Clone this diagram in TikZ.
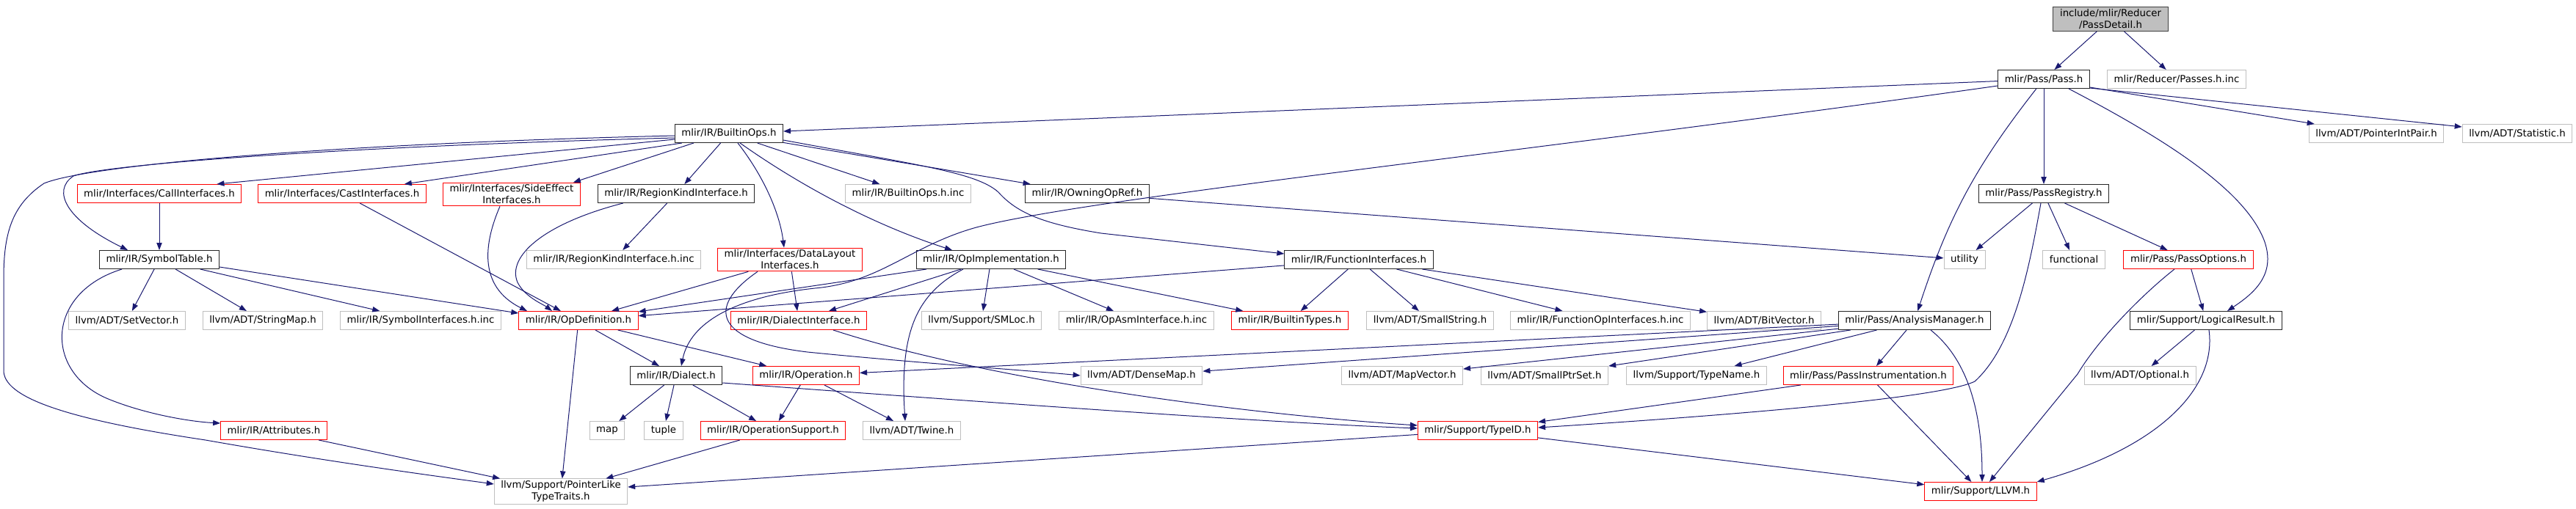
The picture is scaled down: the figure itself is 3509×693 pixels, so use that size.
\documentclass[tikz,border=0pt]{standalone}
\usepackage{fontspec}
\setmainfont{DejaVu Sans}
\usepackage{tikz}
\usetikzlibrary{arrows.meta,calc}
\definecolor{edgeblue}{HTML}{191970}
\definecolor{sysgray}{HTML}{BFBFBF}

\begin{document}
\begin{tikzpicture}[
    x=0.75pt, y=-0.75pt,
    hdr/.style={rectangle, draw, line width=0.75pt, font=\fontsize{10}{12}\selectfont, inner xsep=6.8pt, inner ysep=2pt, minimum height=18.75pt, align=center},
    hdrbox/.style={hdr, draw=black!85},
    trunc/.style={hdr, draw=red},
    sysinc/.style={hdr, draw=sysgray},
    root/.style={hdr, draw=black!75, fill=sysgray},
    arrow/.style={-{Triangle[length=7.5pt,width=5.5pt]}, line width=0.75pt, color=edgeblue}
  ]
  \useasboundingbox (0,0) rectangle (3509,693);

  % Root file
  \node[root] (passdetail) at (2875,26) {include/mlir/Reducer\\/PassDetail.h};

  % Row 1
  \node[hdrbox] (pass) at (2784,108) {mlir/Pass/Pass.h};
  \node[sysinc] (passesinc) at (2965,108) {mlir/Reducer/Passes.h.inc};

  % Row 2
  \node[hdrbox] (builtinops) at (993,182) {mlir/IR/BuiltinOps.h};
  \node[sysinc] (pointerintpair) at (3237,182) {llvm/ADT/PointerIntPair.h};
  \node[sysinc] (statistic) at (3429,182) {llvm/ADT/Statistic.h};

  % Row 3
  \node[trunc] (callif) at (217,264) {mlir/Interfaces/CallInterfaces.h};
  \node[trunc] (castif) at (466,264) {mlir/Interfaces/CastInterfaces.h};
  \node[trunc] (sideeffect) at (697,265) {mlir/Interfaces/SideEffect\\Interfaces.h};
  \node[hdrbox] (regionkind) at (921,264) {mlir/IR/RegionKindInterface.h};
  \node[sysinc] (builtinopsinc) at (1237,264) {mlir/IR/BuiltinOps.h.inc};
  \node[hdrbox] (owningopref) at (1481,264) {mlir/IR/OwningOpRef.h};
  \node[hdrbox] (passregistry) at (2784,264) {mlir/Pass/PassRegistry.h};

  % Row 4
  \node[hdrbox] (symboltable) at (217,354) {mlir/IR/SymbolTable.h};
  \node[sysinc] (regionkindinc) at (836,354) {mlir/IR/RegionKindInterface.h.inc};
  \node[trunc] (datalayout) at (1076,354) {mlir/Interfaces/DataLayout\\Interfaces.h};
  \node[hdrbox] (opimpl) at (1350,354) {mlir/IR/OpImplementation.h};
  \node[hdrbox] (funcif) at (1851,354) {mlir/IR/FunctionInterfaces.h};
  \node[sysinc] (utility) at (2676,354) {utility};
  \node[sysinc] (functional) at (2825,354) {functional};
  \node[trunc] (passoptions) at (2981,354) {mlir/Pass/PassOptions.h};

  % Row 5
  \node[sysinc] (setvector) at (173,437) {llvm/ADT/SetVector.h};
  \node[sysinc] (stringmap) at (358,437) {llvm/ADT/StringMap.h};
  \node[sysinc] (symbolifinc) at (573,437) {mlir/IR/SymbolInterfaces.h.inc};
  \node[trunc] (opdef) at (788,437) {mlir/IR/OpDefinition.h};
  \node[trunc] (dialectif) at (1088,437) {mlir/IR/DialectInterface.h};
  \node[sysinc] (smloc) at (1337,437) {llvm/Support/SMLoc.h};
  \node[sysinc] (opasminc) at (1548,437) {mlir/IR/OpAsmInterface.h.inc};
  \node[trunc] (builtintypes) at (1757,437) {mlir/IR/BuiltinTypes.h};
  \node[sysinc] (smallstring) at (1948,437) {llvm/ADT/SmallString.h};
  \node[sysinc] (funcopifinc) at (2180,437) {mlir/IR/FunctionOpInterfaces.h.inc};
  \node[sysinc] (bitvector) at (2403,437) {llvm/ADT/BitVector.h};
  \node[hdrbox] (analysismgr) at (2608,437) {mlir/Pass/AnalysisManager.h};
  \node[hdrbox] (logicalresult) at (3005,437) {mlir/Support/LogicalResult.h};

  % Row 6
  \node[hdrbox] (dialect) at (921,512) {mlir/IR/Dialect.h};
  \node[trunc] (operation) at (1098,512) {mlir/IR/Operation.h};
  \node[sysinc] (densemap) at (1555,512) {llvm/ADT/DenseMap.h};
  \node[sysinc] (mapvector) at (1910,512) {llvm/ADT/MapVector.h};
  \node[sysinc] (smallptrset) at (2104,512) {llvm/ADT/SmallPtrSet.h};
  \node[sysinc] (typename) at (2311,512) {llvm/Support/TypeName.h};
  \node[trunc] (passinstr) at (2545,512) {mlir/Pass/PassInstrumentation.h};
  \node[sysinc] (optional) at (2915,512) {llvm/ADT/Optional.h};

  % Row 7
  \node[trunc] (attributes) at (373,587) {mlir/IR/Attributes.h};
  \node[sysinc] (map) at (827,587) {map};
  \node[sysinc] (tuple) at (904,587) {tuple};
  \node[trunc] (opsupport) at (1053,587) {mlir/IR/OperationSupport.h};
  \node[sysinc] (twine) at (1242,587) {llvm/ADT/Twine.h};
  \node[trunc] (typeid) at (2013,587) {mlir/Support/TypeID.h};

  % Row 8
  \node[sysinc] (pointerlike) at (764,670) {llvm/Support/PointerLike\\TypeTraits.h};
  \node[trunc] (llvm) at (2698,670) {mlir/Support/LLVM.h};

  % Arrows from the root
  \draw[arrow] (passdetail) -- (pass);
  \draw[arrow] (passdetail) -- (passesinc);

  % Arrows from Pass.h
  \draw[arrow] (pass) -- (builtinops);
  \draw[arrow] ($(pass.west)+(0,9)$) .. controls (2100,205) and (1480,270) .. (1330,310)
    .. controls (1240,335) and (1200,385) .. (1110,393)
    .. controls (1000,405) and (940,440) .. ($(dialect.north)+(7,0)$);
  \draw[arrow] (pass) to[bend right=10] (analysismgr);
  \draw[arrow] (pass) -- (passregistry);
  \draw[arrow] ($(pass.south)+(34,0)$) .. controls (2950,190) and (3060,260) .. (3085,330)
    .. controls (3100,375) and (3070,400) .. ($(logicalresult.north)+(29,0)$);
  \draw[arrow] ($(pass.south east)+(0,-2)$) -- ($(pointerintpair.north west)+(8,0)$);
  \draw[arrow] ($(pass.south east)+(0,-1)$) -- ($(statistic.west)+(0,-9)$);

  % Arrows from BuiltinOps.h
  \draw[arrow] ($(builtinops.west)+(0,3)$) .. controls (450,196) and (120,225) .. (60,250)
    .. controls (15,280) and (5,320) .. (5,380) -- (5,505)
    .. controls (5,540) and (80,570) .. (280,600)
    .. controls (450,630) and (600,650) .. ($(pointerlike.west)+(0,-10)$);
  \draw[arrow] ($(builtinops.west)+(0,6)$) .. controls (450,200) and (140,225) .. (100,240)
    .. controls (70,260) and (90,300) .. ($(symboltable.north)+(-43,0)$);
  \draw[arrow] ($(builtinops.west)+(0,8)$) -- ($(callif.north east)+(-34,0)$);
  \draw[arrow] ($(builtinops.south west)+(10,0)$) -- ($(castif.north east)+(-30,0)$);
  \draw[arrow] ($(builtinops.south west)+(26,0)$) -- ($(sideeffect.north east)+(-10,0)$);
  \draw[arrow] (builtinops) -- (regionkind);
  \draw[arrow] ($(builtinops.south)+(12,0)$) .. controls (1040,240) and (1062,290) .. ($(datalayout.north)+(-8,0)$);
  \draw[arrow] ($(builtinops.south)+(15,0)$) .. controls (1100,260) and (1200,310) .. ($(opimpl.north)+(-53,0)$);
  \draw[arrow] (builtinops) -- (builtinopsinc);
  \draw[arrow] (builtinops) -- (owningopref);
  \draw[arrow] ($(builtinops.east)+(0,9)$) .. controls (1250,225) and (1330,235) .. (1360,262)
    .. controls (1385,290) and (1420,305) .. (1500,318) -- ($(funcif.west)+(0,-8)$);

  % Arrows for the interfaces
  \draw[arrow] (callif) -- (symboltable);
  \draw[arrow] (castif) -- (opdef);
  \draw[arrow] ($(sideeffect.south)+(-16,0)$) .. controls (660,330) and (650,390) .. ($(opdef.north)+(-70,0)$);
  \draw[arrow] (regionkind) -- (regionkindinc);
  \draw[arrow] ($(regionkind.south west)+(35,0)$) .. controls (740,305) and (690,350) .. (705,385)
    .. controls (715,405) and (740,415) .. ($(opdef.north)+(-36,0)$);
  \draw[arrow] (owningopref) -- (utility);
  \draw[arrow] (datalayout) -- (opdef);
  \draw[arrow] (datalayout) -- (dialectif);
  \draw[arrow] ($(datalayout.south)+(-44,0)$) .. controls (960,420) and (975,465) .. (1100,480)
    .. controls (1250,495) and (1400,505) .. (densemap.west);

  % Arrows from SymbolTable.h
  \draw[arrow] (symboltable) -- (setvector);
  \draw[arrow] (symboltable) -- (stringmap);
  \draw[arrow] (symboltable) -- (symbolifinc);
  \draw[arrow] ($(symboltable.east)+(0,10)$) -- ($(opdef.west)+(0,-10)$);
  \draw[arrow] ($(symboltable.south)+(-51,0)$) .. controls (60,400) and (60,510) .. (150,545)
    .. controls (200,565) and (260,575) .. ($(attributes.west)+(0,-10)$);
  \draw[arrow] (attributes) -- (pointerlike);

  % Arrows from OpImplementation.h
  \draw[arrow] (opimpl) -- (opdef);
  \draw[arrow] (opimpl) -- (dialectif);
  \draw[arrow] (opimpl) -- (smloc);
  \draw[arrow] (opimpl) -- (opasminc);
  \draw[arrow] (opimpl) -- (builtintypes);
  \draw[arrow] ($(opimpl.south)+(-38,0)$) .. controls (1250,400) and (1225,450) .. ($(twine.north)+(-9,0)$);

  % Arrows from FunctionInterfaces.h
  \draw[arrow] (funcif) -- (opdef);
  \draw[arrow] (funcif) -- (builtintypes);
  \draw[arrow] (funcif) -- (smallstring);
  \draw[arrow] (funcif) -- (funcopifinc);
  \draw[arrow] (funcif) -- (bitvector);

  % Arrows from OpDefinition.h and below
  \draw[arrow] (opdef) -- (pointerlike);
  \draw[arrow] (opdef) -- (dialect);
  \draw[arrow] (opdef) -- (operation);
  \draw[arrow] ($(dialectif.south)+(47,0)$) .. controls (1350,520) and (1700,565) .. ($(typeid.west)+(0,-7)$);
  \draw[arrow] (dialect) -- (map);
  \draw[arrow] (dialect) -- (tuple);
  \draw[arrow] (dialect) -- (opsupport);
  \draw[arrow] ($(dialect.east)+(0,10)$) .. controls (1300,545) and (1700,575) .. ($(typeid.west)+(0,-3)$);
  \draw[arrow] (operation) -- (opsupport);
  \draw[arrow] (operation) -- (twine);
  \draw[arrow] (opsupport) -- (pointerlike);
  \draw[arrow] (typeid) -- (pointerlike);
  \draw[arrow] (typeid) -- (llvm);

  % Arrows from AnalysisManager.h
  \draw[arrow] (analysismgr) -- (operation);
  \draw[arrow] (analysismgr) -- (densemap);
  \draw[arrow] (analysismgr) -- (mapvector);
  \draw[arrow] (analysismgr) -- (smallptrset);
  \draw[arrow] (analysismgr) -- (typename);
  \draw[arrow] (analysismgr) -- (passinstr);
  \draw[arrow] ($(analysismgr.south)+(22,0)$) .. controls (2680,490) and (2700,560) .. ($(llvm.north)+(2,0)$);
  \draw[arrow] (passinstr) -- (typeid);
  \draw[arrow] (passinstr) -- (llvm);

  % Arrows from PassRegistry.h
  \draw[arrow] (passregistry) -- (utility);
  \draw[arrow] (passregistry) -- (functional);
  \draw[arrow] (passregistry) -- (passoptions);
  \draw[arrow] ($(passregistry.south)+(-4,0)$) .. controls (2765,360) and (2745,470) .. (2690,520)
    .. controls (2640,545) and (2300,570) .. ($(typeid.east)+(0,-4)$);
  \draw[arrow] (passoptions) -- (logicalresult);
  \draw[arrow] ($(passoptions.south)+(-19,0)$) .. controls (2920,400) and (2860,460) .. (2830,510) -- ($(llvm.north)+(12,0)$);
  \draw[arrow] (logicalresult) -- (optional);
  \draw[arrow] ($(logicalresult.south)+(4,0)$) .. controls (3020,530) and (2940,610) .. (llvm.north east);
\end{tikzpicture}
\end{document}
